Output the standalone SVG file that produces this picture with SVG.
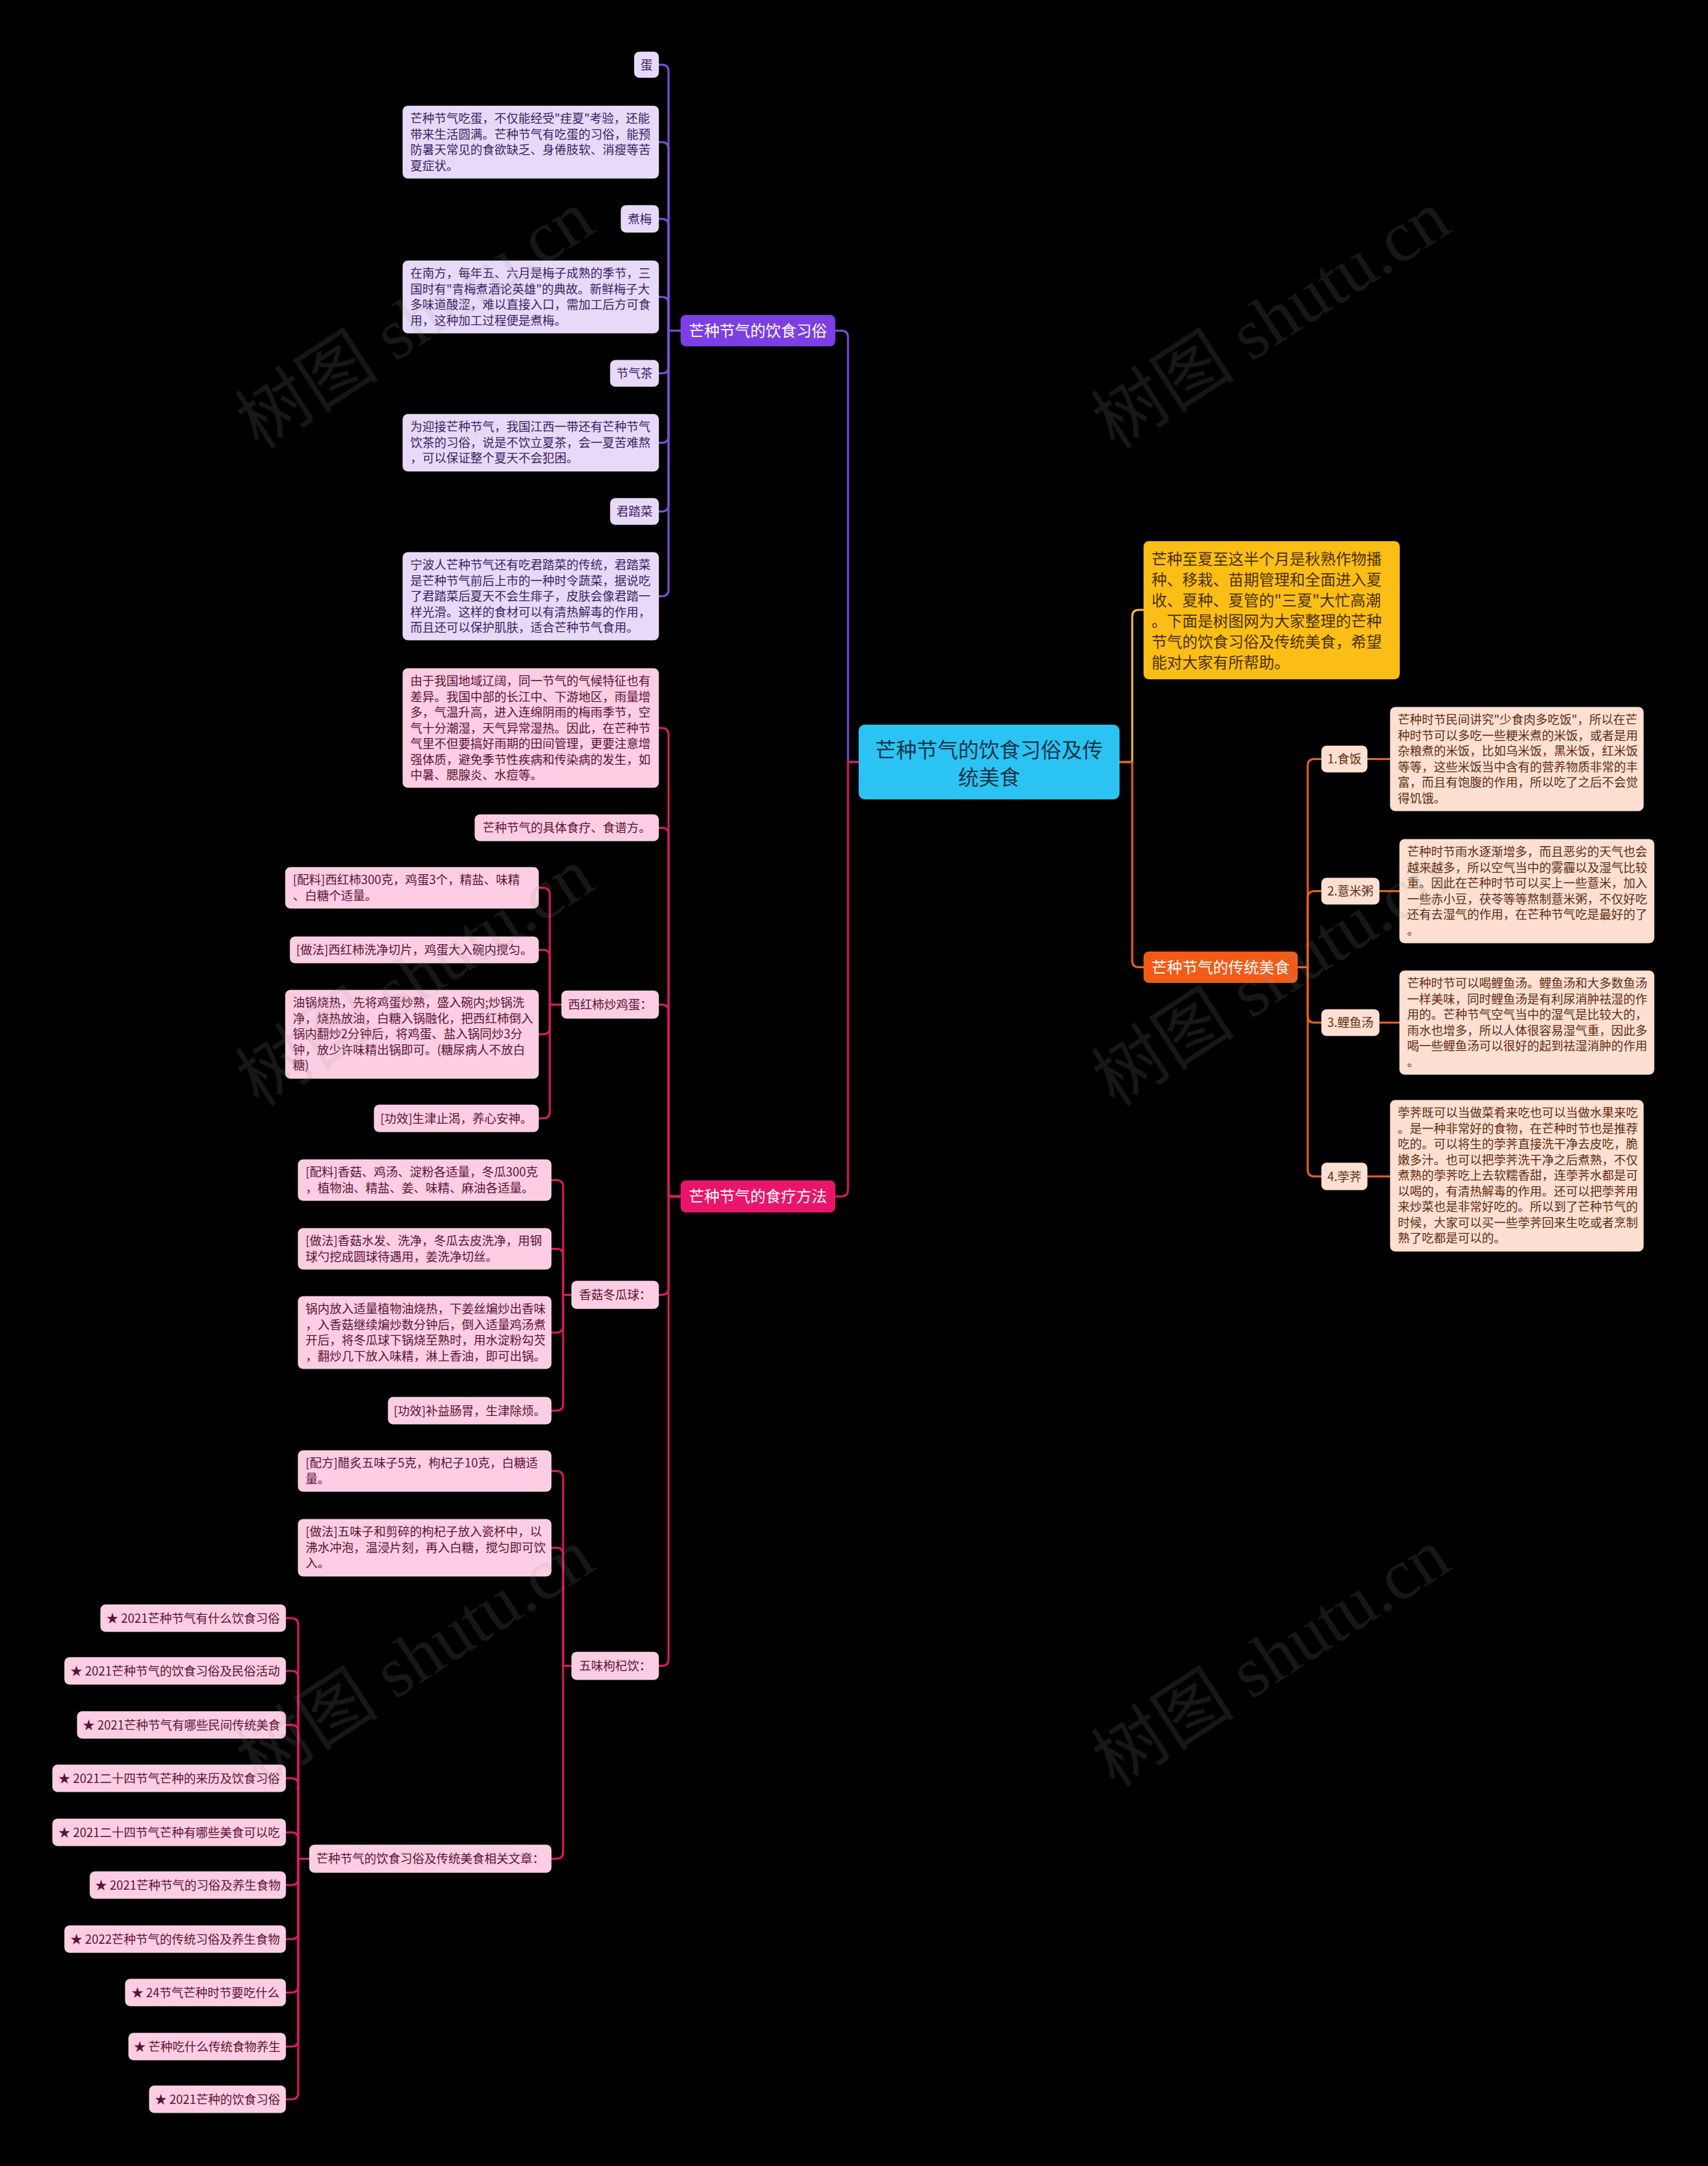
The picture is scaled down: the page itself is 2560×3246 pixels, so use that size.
<svg xmlns="http://www.w3.org/2000/svg" width="2560" height="3246" viewBox="0 0 2560 3246">
<style>
text{font-family:"Noto Sans CJK SC","Noto Sans",sans-serif;}
.s18{font-size:18px}
.s23{font-size:23px}
.mid{text-anchor:middle}
.pc{fill:#E6DAF8;stroke:#F3EDFC;stroke-width:1}
.pt{fill:#3B1E63}
.rc{fill:#FCCDE3;stroke:#FDE3EF;stroke-width:1}
.rt{fill:#5B1233}
.oc{fill:#FDE0D1;stroke:#FEEDE4;stroke-width:1}
.ot{fill:#5E2C12}
.wt{fill:#FFFFFF}
.c{fill:none;stroke-width:3;stroke-linejoin:round;stroke-linecap:round}
.cp{stroke:#7B4FD8}
.cr{stroke:#D81B60}
.co{stroke:#E8601C}
.cy{stroke:#F2C230}
.wm{font-family:"Liberation Serif","Noto Sans CJK SC",serif;font-size:108px;fill:#9a9a9a;opacity:0.15}
</style>
<rect x="0" y="0" width="2560" height="3246" fill="#000000"/>

<g id="connectors">
<path class="c cy" d="M1678,1142 H1697 V924 Q1697,914 1707,914 H1714"/>
<path class="c co" d="M1678,1142 H1697 V1439.5 Q1697,1449.5 1707,1449.5 H1714"/>
<path class="c cp" d="M1252,495.5 H1261 Q1271,495.5 1271,505.5 V1142 H1287"/>
<path class="c cr" d="M1252,1793 H1261 Q1271,1793 1271,1783 V1142 H1287"/>

<path class="c co" d="M1945,1449.5 H1960 V1147.5 Q1960,1137.5 1970,1137.5 H1981"/>
<path class="c co" d="M1945,1449.5 H1960 V1345.5 Q1960,1335.5 1970,1335.5 H1981"/>
<path class="c co" d="M1945,1449.5 H1960 V1522.5 Q1960,1532.5 1970,1532.5 H1981"/>
<path class="c co" d="M1945,1449.5 H1960 V1753 Q1960,1763 1970,1763 H1981"/>
<path class="c co" d="M2049,1137.5 H2084"/>
<path class="c co" d="M2067,1335.5 H2098"/>
<path class="c co" d="M2067,1532.5 H2098"/>
<path class="c co" d="M2049,1763 H2084"/>

<path class="c cp" d="M987,97 H992 Q1002,97 1002,107 V495.5 H1020"/>
<path class="c cp" d="M987,213 H992 Q1002,213 1002,223 V495.5 H1020"/>
<path class="c cp" d="M987,328 H992 Q1002,328 1002,338 V495.5 H1020"/>
<path class="c cp" d="M987,445 H992 Q1002,445 1002,455 V495.5 H1020"/>
<path class="c cp" d="M987,559.5 H992 Q1002,559.5 1002,549.5 V495.5 H1020"/>
<path class="c cp" d="M987,663.5 H992 Q1002,663.5 1002,653.5 V495.5 H1020"/>
<path class="c cp" d="M987,766.5 H992 Q1002,766.5 1002,756.5 V495.5 H1020"/>
<path class="c cp" d="M987,893.5 H992 Q1002,893.5 1002,883.5 V495.5 H1020"/>

<path class="c cr" d="M987,1091 H992 Q1002,1091 1002,1101 V1793 H1020"/>
<path class="c cr" d="M987,1240.5 H992 Q1002,1240.5 1002,1250.5 V1793 H1020"/>
<path class="c cr" d="M987,1505.5 H992 Q1002,1505.5 1002,1515.5 V1793 H1020"/>
<path class="c cr" d="M987,1940.5 H992 Q1002,1940.5 1002,1930.5 V1793 H1020"/>
<path class="c cr" d="M987,2496.5 H992 Q1002,2496.5 1002,2486.5 V1793 H1020"/>

<path class="c cr" d="M807,1330.5 H814 Q824,1330.5 824,1340.5 V1505.5 H842"/>
<path class="c cr" d="M807,1423.5 H814 Q824,1423.5 824,1433.5 V1505.5 H842"/>
<path class="c cr" d="M807,1550 H814 Q824,1550 824,1540 V1505.5 H842"/>
<path class="c cr" d="M807,1676 H814 Q824,1676 824,1666 V1505.5 H842"/>

<path class="c cr" d="M826,1768.5 H834 Q844,1768.5 844,1778.5 V1940.5 H857"/>
<path class="c cr" d="M826,1871.5 H834 Q844,1871.5 844,1881.5 V1940.5 H857"/>
<path class="c cr" d="M826,1997 H834 Q844,1997 844,1987 V1940.5 H857"/>
<path class="c cr" d="M826,2114 H834 Q844,2114 844,2104 V1940.5 H857"/>

<path class="c cr" d="M826,2204.5 H834 Q844,2204.5 844,2214.5 V2496.5 H857"/>
<path class="c cr" d="M826,2319.5 H834 Q844,2319.5 844,2329.5 V2496.5 H857"/>
<path class="c cr" d="M826,2785.5 H834 Q844,2785.5 844,2775.5 V2496.5 H857"/>

<path class="c cr" d="M428,2425 H437 Q447,2425 447,2435 V2785.5 H464"/>
<path class="c cr" d="M428,2504 H437 Q447,2504 447,2514 V2785.5 H464"/>
<path class="c cr" d="M428,2585 H437 Q447,2585 447,2595 V2785.5 H464"/>
<path class="c cr" d="M428,2665 H437 Q447,2665 447,2675 V2785.5 H464"/>
<path class="c cr" d="M428,2746 H437 Q447,2746 447,2756 V2785.5 H464"/>
<path class="c cr" d="M428,2825 H437 Q447,2825 447,2815 V2785.5 H464"/>
<path class="c cr" d="M428,2906 H437 Q447,2906 447,2896 V2785.5 H464"/>
<path class="c cr" d="M428,2986 H437 Q447,2986 447,2976 V2785.5 H464"/>
<path class="c cr" d="M428,3067 H437 Q447,3067 447,3057 V2785.5 H464"/>
<path class="c cr" d="M428,3146 H437 Q447,3146 447,3136 V2785.5 H464"/>
</g>

<g id="root">
<rect x="1287" y="1086" width="391" height="112" rx="9" fill="#2BC4F2"/>
<text class="mid" x="1482.5" y="1135" font-size="31" fill="#10324A">芒种节气的饮食习俗及传</text>
<text class="mid" x="1482.5" y="1176" font-size="31" fill="#10324A">统美食</text>
</g>

<g id="intro">
<rect x="1714" y="811" width="384" height="207" rx="8" fill="#FBBE16"/>
<text class="s23" fill="#4A3000">
<tspan x="1726" y="846">芒种至夏至这半个月是秋熟作物播</tspan>
<tspan x="1726" y="877">种、移栽、苗期管理和全面进入夏</tspan>
<tspan x="1726" y="908">收、夏种、夏管的"三夏"大忙高潮</tspan>
<tspan x="1726" y="939">。下面是树图网为大家整理的芒种</tspan>
<tspan x="1726" y="970">节气的饮食习俗及传统美食，希望</tspan>
<tspan x="1726" y="1001">能对大家有所帮助。</tspan>
</text>
</g>

<g id="n-custom">
<rect x="1020" y="472" width="232" height="47" rx="8" fill="#7B3FE4"/>
<text class="s23 mid wt" x="1136" y="503.5">芒种节气的饮食习俗</text>
</g>
<g id="n-therapy">
<rect x="1020" y="1769" width="232" height="48" rx="8" fill="#E8156A"/>
<text class="s23 mid wt" x="1136" y="1801">芒种节气的食疗方法</text>
</g>
<g id="n-food">
<rect x="1714" y="1426" width="231" height="47" rx="8" fill="#F35A16"/>
<text class="s23 mid wt" x="1829.5" y="1457.5">芒种节气的传统美食</text>
</g>

<g id="p-dan"><rect class="pc" x="951" y="78" width="36" height="38" rx="7"/><text class="s18 mid pt" x="969" y="103.5">蛋</text></g>
<g id="p-dan-t"><rect class="pc" x="604" y="159" width="383" height="108" rx="7"/>
<text class="s18 pt"><tspan x="615" y="184">芒种节气吃蛋，不仅能经受"疰夏"考验，还能</tspan><tspan x="615" y="207.5">带来生活圆满。芒种节气有吃蛋的习俗，能预</tspan><tspan x="615" y="231">防暑天常见的食欲缺乏、身倦肢软、消瘦等苦</tspan><tspan x="615" y="254.5">夏症状。</tspan></text></g>
<g id="p-mei"><rect class="pc" x="931" y="308" width="56" height="40" rx="7"/><text class="s18 mid pt" x="959" y="334.5">煮梅</text></g>
<g id="p-mei-t"><rect class="pc" x="604" y="391" width="383" height="108" rx="7"/>
<text class="s18 pt"><tspan x="615" y="416">在南方，每年五、六月是梅子成熟的季节，三</tspan><tspan x="615" y="439.5">国时有"青梅煮酒论英雄"的典故。新鲜梅子大</tspan><tspan x="615" y="463">多味道酸涩，难以直接入口，需加工后方可食</tspan><tspan x="615" y="486.5">用，这种加工过程便是煮梅。</tspan></text></g>
<g id="p-cha"><rect class="pc" x="915" y="540" width="72" height="39" rx="7"/><text class="s18 mid pt" x="951" y="566">节气茶</text></g>
<g id="p-cha-t"><rect class="pc" x="604" y="621" width="383" height="85" rx="7"/>
<text class="s18 pt"><tspan x="615" y="646">为迎接芒种节气，我国江西一带还有芒种节气</tspan><tspan x="615" y="669.5">饮茶的习俗，说是不饮立夏茶，会一夏苦难熬</tspan><tspan x="615" y="693">，可以保证整个夏天不会犯困。</tspan></text></g>
<g id="p-cai"><rect class="pc" x="915" y="747" width="72" height="39" rx="7"/><text class="s18 mid pt" x="951" y="773">君踏菜</text></g>
<g id="p-cai-t"><rect class="pc" x="604" y="828" width="383" height="131" rx="7"/>
<text class="s18 pt"><tspan x="615" y="853">宁波人芒种节气还有吃君踏菜的传统，君踏菜</tspan><tspan x="615" y="876.5">是芒种节气前后上市的一种时令蔬菜，据说吃</tspan><tspan x="615" y="900">了君踏菜后夏天不会生痱子，皮肤会像君踏一</tspan><tspan x="615" y="923.5">样光滑。这样的食材可以有清热解毒的作用，</tspan><tspan x="615" y="947">而且还可以保护肌肤，适合芒种节气食用。</tspan></text></g>

<g id="o-1"><rect class="oc" x="1981" y="1118" width="68" height="39" rx="7"/><text class="s18 mid ot" x="2015" y="1144">1.食饭</text></g>
<g id="o-1-t"><rect class="oc" x="2084" y="1060" width="379" height="155" rx="7"/>
<text class="s18 ot"><tspan x="2095" y="1085">芒种时节民间讲究"少食肉多吃饭"，所以在芒</tspan><tspan x="2095" y="1108.5">种时节可以多吃一些粳米煮的米饭，或者是用</tspan><tspan x="2095" y="1132">杂粮煮的米饭，比如乌米饭，黑米饭，红米饭</tspan><tspan x="2095" y="1155.5">等等，这些米饭当中含有的营养物质非常的丰</tspan><tspan x="2095" y="1179">富，而且有饱腹的作用，所以吃了之后不会觉</tspan><tspan x="2095" y="1202.5">得饥饿。</tspan></text></g>
<g id="o-2"><rect class="oc" x="1981" y="1316" width="86" height="39" rx="7"/><text class="s18 mid ot" x="2024" y="1342">2.薏米粥</text></g>
<g id="o-2-t"><rect class="oc" x="2098" y="1258" width="381" height="155" rx="7"/>
<text class="s18 ot"><tspan x="2109" y="1283">芒种时节雨水逐渐增多，而且恶劣的天气也会</tspan><tspan x="2109" y="1306.5">越来越多，所以空气当中的雾霾以及湿气比较</tspan><tspan x="2109" y="1330">重。因此在芒种时节可以买上一些薏米，加入</tspan><tspan x="2109" y="1353.5">一些赤小豆，茯苓等等熬制薏米粥，不仅好吃</tspan><tspan x="2109" y="1377">还有去湿气的作用，在芒种节气吃是最好的了</tspan><tspan x="2109" y="1400.5">。</tspan></text></g>
<g id="o-3"><rect class="oc" x="1981" y="1513" width="86" height="39" rx="7"/><text class="s18 mid ot" x="2024" y="1539">3.鲤鱼汤</text></g>
<g id="o-3-t"><rect class="oc" x="2098" y="1455" width="381" height="155" rx="7"/>
<text class="s18 ot"><tspan x="2109" y="1480">芒种时节可以喝鲤鱼汤。鲤鱼汤和大多数鱼汤</tspan><tspan x="2109" y="1503.5">一样美味，同时鲤鱼汤是有利尿消肿祛湿的作</tspan><tspan x="2109" y="1527">用的。芒种节气空气当中的湿气是比较大的，</tspan><tspan x="2109" y="1550.5">雨水也增多，所以人体很容易湿气重，因此多</tspan><tspan x="2109" y="1574">喝一些鲤鱼汤可以很好的起到祛湿消肿的作用</tspan><tspan x="2109" y="1597.5">。</tspan></text></g>
<g id="o-4"><rect class="oc" x="1981" y="1743" width="68" height="40" rx="7"/><text class="s18 mid ot" x="2015" y="1769.5">4.荸荠</text></g>
<g id="o-4-t"><rect class="oc" x="2084" y="1649" width="379" height="226" rx="7"/>
<text class="s18 ot"><tspan x="2095" y="1674">荸荠既可以当做菜肴来吃也可以当做水果来吃</tspan><tspan x="2095" y="1697.5">。是一种非常好的食物，在芒种时节也是推荐</tspan><tspan x="2095" y="1721">吃的。可以将生的荸荠直接洗干净去皮吃，脆</tspan><tspan x="2095" y="1744.5">嫩多汁。也可以把荸荠洗干净之后煮熟，不仅</tspan><tspan x="2095" y="1768">煮熟的荸荠吃上去软糯香甜，连荸荠水都是可</tspan><tspan x="2095" y="1791.5">以喝的，有清热解毒的作用。还可以把荸荠用</tspan><tspan x="2095" y="1815">来炒菜也是非常好吃的。所以到了芒种节气的</tspan><tspan x="2095" y="1838.5">时候，大家可以买一些荸荠回来生吃或者烹制</tspan><tspan x="2095" y="1862">熟了吃都是可以的。</tspan></text></g>

<g id="r-a"><rect class="rc" x="604" y="1002" width="383" height="178" rx="7"/>
<text class="s18 rt"><tspan x="615" y="1027">由于我国地域辽阔，同一节气的气候特征也有</tspan><tspan x="615" y="1050.5">差异。我国中部的长江中、下游地区，雨量增</tspan><tspan x="615" y="1074">多，气温升高，进入连绵阴雨的梅雨季节，空</tspan><tspan x="615" y="1097.5">气十分潮湿，天气异常湿热。因此，在芒种节</tspan><tspan x="615" y="1121">气里不但要搞好雨期的田间管理，更要注意增</tspan><tspan x="615" y="1144.5">强体质，避免季节性疾病和传染病的发生，如</tspan><tspan x="615" y="1168">中暑、腮腺炎、水痘等。</tspan></text></g>
<g id="r-b"><rect class="rc" x="712" y="1221" width="275" height="39" rx="7"/><text class="s18 mid rt" x="849.5" y="1247">芒种节气的具体食疗、食谱方。</text></g>
<g id="r-xhs"><rect class="rc" x="842" y="1485" width="145" height="41" rx="7"/><text class="s18 mid rt" x="914.5" y="1512">西红柿炒鸡蛋：</text></g>
<g id="r-xhs-1"><rect class="rc" x="428" y="1300" width="379" height="61" rx="7"/>
<text class="s18 rt"><tspan x="439" y="1325">[配料]西红柿300克，鸡蛋3个，精盐、味精</tspan><tspan x="439" y="1348.5">、白糖个适量。</tspan></text></g>
<g id="r-xhs-2"><rect class="rc" x="435" y="1404" width="372" height="39" rx="7"/><text class="s18 mid rt" x="621" y="1430">[做法]西红柿洗净切片，鸡蛋大入碗内搅匀。</text></g>
<g id="r-xhs-3"><rect class="rc" x="428" y="1484" width="379" height="132" rx="7"/>
<text class="s18 rt"><tspan x="439" y="1509">油锅烧热，先将鸡蛋炒熟，盛入碗内;炒锅洗</tspan><tspan x="439" y="1532.5">净，烧热放油，白糖入锅融化，把西红柿倒入</tspan><tspan x="439" y="1556">锅内翻炒2分钟后，将鸡蛋、盐入锅同炒3分</tspan><tspan x="439" y="1579.5">钟，放少许味精出锅即可。(糖尿病人不放白</tspan><tspan x="439" y="1603">糖)</tspan></text></g>
<g id="r-xhs-4"><rect class="rc" x="561" y="1656" width="246" height="40" rx="7"/><text class="s18 mid rt" x="684" y="1682.5">[功效]生津止渴，养心安神。</text></g>

<g id="r-xg"><rect class="rc" x="857" y="1920" width="130" height="41" rx="7"/><text class="s18 mid rt" x="922" y="1947">香菇冬瓜球：</text></g>
<g id="r-xg-1"><rect class="rc" x="447" y="1738" width="379" height="61" rx="7"/>
<text class="s18 rt"><tspan x="458" y="1763">[配料]香菇、鸡汤、淀粉各适量，冬瓜300克</tspan><tspan x="458" y="1786.5">，植物油、精盐、姜、味精、麻油各适量。</tspan></text></g>
<g id="r-xg-2"><rect class="rc" x="447" y="1841" width="379" height="61" rx="7"/>
<text class="s18 rt"><tspan x="458" y="1866">[做法]香菇水发、洗净，冬瓜去皮洗净，用钢</tspan><tspan x="458" y="1889.5">球勺挖成圆球待遇用，姜洗净切丝。</tspan></text></g>
<g id="r-xg-3"><rect class="rc" x="447" y="1943" width="379" height="108" rx="7"/>
<text class="s18 rt"><tspan x="458" y="1968">锅内放入适量植物油烧热，下姜丝煸炒出香味</tspan><tspan x="458" y="1991.5">，入香菇继续煸炒数分钟后，倒入适量鸡汤煮</tspan><tspan x="458" y="2015">开后，将冬瓜球下锅烧至熟时，用水淀粉勾芡</tspan><tspan x="458" y="2038.5">，翻炒几下放入味精，淋上香油，即可出锅。</tspan></text></g>
<g id="r-xg-4"><rect class="rc" x="582" y="2094" width="244" height="40" rx="7"/><text class="s18 mid rt" x="704" y="2120.5">[功效]补益肠胃，生津除烦。</text></g>

<g id="r-ww"><rect class="rc" x="857" y="2476" width="130" height="41" rx="7"/><text class="s18 mid rt" x="922" y="2503">五味枸杞饮：</text></g>
<g id="r-ww-1"><rect class="rc" x="447" y="2174" width="379" height="61" rx="7"/>
<text class="s18 rt"><tspan x="458" y="2199">[配方]醋炙五味子5克，枸杞子10克，白糖适</tspan><tspan x="458" y="2222.5">量。</tspan></text></g>
<g id="r-ww-2"><rect class="rc" x="447" y="2277" width="379" height="85" rx="7"/>
<text class="s18 rt"><tspan x="458" y="2302">[做法]五味子和剪碎的枸杞子放入瓷杯中，以</tspan><tspan x="458" y="2325.5">沸水冲泡，温浸片刻，再入白糖，搅匀即可饮</tspan><tspan x="458" y="2349">入。</tspan></text></g>
<g id="r-rel"><rect class="rc" x="464" y="2765" width="362" height="41" rx="7"/><text class="s18 mid rt" x="645" y="2792">芒种节气的饮食习俗及传统美食相关文章：</text></g>

<g id="a1"><rect class="rc" x="151" y="2405" width="277" height="40" rx="7"/><text class="s18 mid rt" x="289.5" y="2431.5">★ 2021芒种节气有什么饮食习俗</text></g>
<g id="a2"><rect class="rc" x="97" y="2484" width="331" height="40" rx="7"/><text class="s18 mid rt" x="262.5" y="2510.5">★ 2021芒种节气的饮食习俗及民俗活动</text></g>
<g id="a3"><rect class="rc" x="116" y="2565" width="312" height="40" rx="7"/><text class="s18 mid rt" x="272" y="2591.5">★ 2021芒种节气有哪些民间传统美食</text></g>
<g id="a4"><rect class="rc" x="79" y="2645" width="349" height="40" rx="7"/><text class="s18 mid rt" x="253.5" y="2671.5">★ 2021二十四节气芒种的来历及饮食习俗</text></g>
<g id="a5"><rect class="rc" x="79" y="2726" width="349" height="40" rx="7"/><text class="s18 mid rt" x="253.5" y="2752.5">★ 2021二十四节气芒种有哪些美食可以吃</text></g>
<g id="a6"><rect class="rc" x="135" y="2805" width="293" height="40" rx="7"/><text class="s18 mid rt" x="281.5" y="2831.5">★ 2021芒种节气的习俗及养生食物</text></g>
<g id="a7"><rect class="rc" x="97" y="2886" width="331" height="40" rx="7"/><text class="s18 mid rt" x="262.5" y="2912.5">★ 2022芒种节气的传统习俗及养生食物</text></g>
<g id="a8"><rect class="rc" x="188" y="2966" width="240" height="40" rx="7"/><text class="s18 mid rt" x="308" y="2992.5">★ 24节气芒种时节要吃什么</text></g>
<g id="a9"><rect class="rc" x="193" y="3047" width="235" height="40" rx="7"/><text class="s18 mid rt" x="310.5" y="3073.5">★ 芒种吃什么传统食物养生</text></g>
<g id="a10"><rect class="rc" x="224" y="3126" width="204" height="40" rx="7"/><text class="s18 mid rt" x="326" y="3152.5">★ 2021芒种的饮食习俗</text></g>

<g id="watermarks">
<text class="wm" text-anchor="middle" transform="translate(642,510) rotate(-33)">树图 shutu.cn</text>
<text class="wm" text-anchor="middle" transform="translate(1925,510) rotate(-33)">树图 shutu.cn</text>
<text class="wm" text-anchor="middle" transform="translate(642,1495) rotate(-33)">树图 shutu.cn</text>
<text class="wm" text-anchor="middle" transform="translate(1925,1495) rotate(-33)">树图 shutu.cn</text>
<text class="wm" text-anchor="middle" transform="translate(642,2515) rotate(-33)">树图 shutu.cn</text>
<text class="wm" text-anchor="middle" transform="translate(1925,2515) rotate(-33)">树图 shutu.cn</text>
</g>
</svg>
